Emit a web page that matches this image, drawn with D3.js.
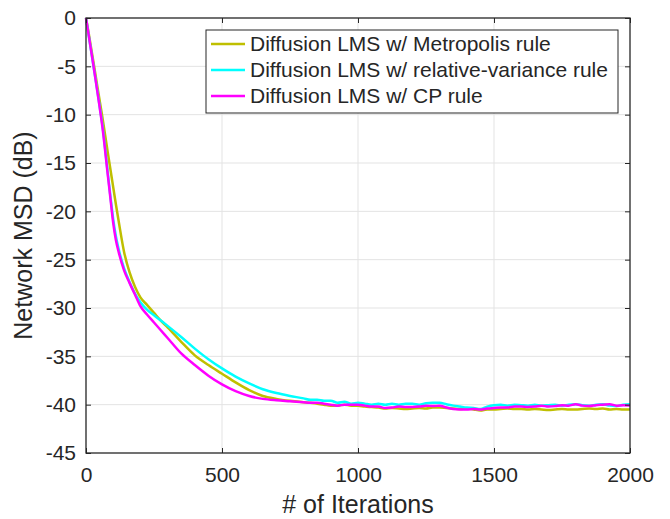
<!DOCTYPE html>
<html>
<head>
  <meta charset="UTF-8">
  <script src="https://d3js.org/d3.v7.min.js"></script>
  <style>
    body { margin: 0; background: #fff; }
    text { font-family: "Liberation Sans", Arial, Helvetica, sans-serif; fill: #262626; }
  </style>
</head>
<body>
  <script>
    // iteration index shared by all three curves
    var iters = [0, 10, 20, 30, 40, 50, 60, 80, 90, 100, 110, 120, 140, 160, 180, 200, 225, 250, 275, 300,
      350, 400, 450, 500, 550, 600, 650, 700, 750, 800,
      825, 850, 875, 900, 925, 950, 975, 1000, 1025, 1050, 1075, 1100, 1125, 1150, 1175, 1200,
      1225, 1250, 1275, 1300, 1325, 1350, 1375, 1400, 1425, 1450, 1475, 1500, 1525, 1550, 1575,
      1600, 1625, 1650, 1675, 1700, 1725, 1750, 1775, 1800, 1825, 1850, 1875, 1900, 1925, 1950,
      1975, 2000];

    // Metropolis rule
    var metropolis = [0, -1.6, -3.3, -5.0, -6.8, -8.5, -10.2, -13.9, -15.7, -17.5, -19.3, -21.0, -24.2, -26.3, -27.8, -28.9, -29.7, -30.5, -31.3, -32.0,
      -33.5, -34.9, -35.9, -36.8, -37.7, -38.5, -39.1, -39.4, -39.6, -39.75,
      -39.8, -39.9, -40.0, -40.1, -40.1, -40.0, -40.1, -40.1, -40.2, -40.25, -40.3, -40.4, -40.35, -40.4, -40.45, -40.4,
      -40.35, -40.4, -40.3, -40.3, -40.35, -40.4, -40.45, -40.4, -40.5, -40.6, -40.5, -40.5, -40.45, -40.4, -40.45,
      -40.45, -40.5, -40.45, -40.5, -40.55, -40.5, -40.45, -40.5, -40.5, -40.45, -40.4, -40.45, -40.4, -40.5, -40.45,
      -40.5, -40.5];

    // relative-variance rule
    var relVariance = [0, -1.8, -3.6, -5.4, -7.2, -9.1, -11.0, -16.0, -18.5, -20.8, -22.6, -23.9, -25.9, -27.3, -28.5, -29.4, -30.2, -30.75, -31.3, -31.85,
      -33.0, -34.2, -35.3, -36.25, -37.1, -37.8, -38.4, -38.8, -39.1, -39.35,
      -39.5, -39.5, -39.6, -39.6, -39.8, -39.7, -39.9, -39.8, -39.9, -40.0, -39.9, -40.0, -39.9, -40.0, -39.9, -39.9,
      -40.0, -39.85, -39.8, -39.8, -39.95, -40.1, -40.2, -40.3, -40.35, -40.45, -40.2, -40.05, -40.0, -40.1, -40.0,
      -40.05, -40.1, -40.0, -40.1, -40.05, -40.0, -40.1, -40.0, -39.95, -40.05, -40.1, -40.0, -39.95, -40.1, -40.15,
      -40.0, -39.95];

    // CP rule
    var cpRule = [0, -1.8, -3.6, -5.4, -7.3, -9.2, -11.2, -16.2, -18.7, -21.2, -23.0, -24.2, -26.1, -27.4, -28.6, -29.8, -30.7, -31.5, -32.3, -33.1,
      -34.7, -35.9, -37.0, -37.9, -38.6, -39.1, -39.4, -39.55, -39.65, -39.75,
      -39.8, -39.8, -39.9, -40.0, -40.1, -40.0, -40.0, -40.0, -40.1, -40.2, -40.2, -40.35, -40.3, -40.2, -40.25, -40.25,
      -40.2, -40.1, -40.15, -40.1, -40.3, -40.45, -40.5, -40.5, -40.45, -40.5, -40.4, -40.35, -40.3, -40.3, -40.2,
      -40.2, -40.25, -40.2, -40.1, -40.2, -40.15, -40.05, -40.1, -39.95, -40.1, -40.15, -40.05, -40.0, -39.95, -40.1,
      -40.05, -40.1];

    var seriesNames = ["Diffusion LMS w/ Metropolis rule", "Diffusion LMS w/ relative-variance rule", "Diffusion LMS w/ CP rule"];
    var seriesColors = ["#bfbf00", "#00ffff", "#ff00ff"];
    var seriesData = [metropolis, relVariance, cpRule];

    var xTicks = [0, 500, 1000, 1500, 2000];
    var yTicks = [0, -5, -10, -15, -20, -25, -30, -35, -40, -45];

    (function() {
      var width = 670, height = 519;
      var mL = 86, mR = 630, mT = 18, mB = 453;

      var svg = d3.select("body").append("svg")
        .attr("width", width)
        .attr("height", height);

      var x = d3.scaleLinear().domain([0, 2000]).range([mL, mR]);
      var y = d3.scaleLinear().domain([-45, 0]).range([mB, mT]);

      // grid lines
      svg.append("g").selectAll("line").data(xTicks.slice(1, -1)).enter().append("line")
        .attr("x1", function(d) { return x(d); }).attr("x2", function(d) { return x(d); })
        .attr("y1", mT).attr("y2", mB)
        .attr("stroke", "#e3e3e3").attr("stroke-width", 1);
      svg.append("g").selectAll("line").data(yTicks.slice(1, -1)).enter().append("line")
        .attr("y1", function(d) { return y(d); }).attr("y2", function(d) { return y(d); })
        .attr("x1", mL).attr("x2", mR)
        .attr("stroke", "#e3e3e3").attr("stroke-width", 1);

      // curves
      var line = d3.line()
        .curve(d3.curveMonotoneX)
        .x(function(d) { return x(d[0]); })
        .y(function(d) { return y(d[1]); });

      seriesData.forEach(function(vals, i) {
        svg.append("path")
          .datum(iters.map(function(t, j) { return [t, vals[j]]; }))
          .attr("d", line)
          .attr("fill", "none")
          .attr("stroke", seriesColors[i])
          .attr("stroke-width", 2.5)
          .attr("stroke-linejoin", "round");
      });

      // axes (ticks pointing inward, box on all sides)
      var axisStyle = function(g) {
        g.select(".domain").remove();
        g.selectAll(".tick line").attr("stroke", "#262626");
        g.selectAll(".tick text").attr("font-size", 21).attr("fill", "#262626")
          .attr("font-family", "Liberation Sans, Arial, sans-serif");
      };

      svg.append("g").attr("transform", "translate(0," + mB + ")")
        .call(d3.axisBottom(x).tickValues(xTicks).tickSize(-5).tickPadding(14).tickFormat(d3.format("d")))
        .call(axisStyle);
      svg.append("g").attr("transform", "translate(0," + mT + ")")
        .call(d3.axisTop(x).tickValues(xTicks).tickSize(-5).tickFormat(""))
        .call(axisStyle);
      svg.append("g").attr("transform", "translate(" + mL + ",0)")
        .call(d3.axisLeft(y).tickValues(yTicks).tickSize(-5).tickPadding(10)
          .tickFormat(function(d) { return String(d); }))
        .call(axisStyle);
      svg.append("g").attr("transform", "translate(" + mR + ",0)")
        .call(d3.axisRight(y).tickValues(yTicks).tickSize(-5).tickFormat(""))
        .call(axisStyle);

      svg.append("rect")
        .attr("x", mL).attr("y", mT)
        .attr("width", mR - mL).attr("height", mB - mT)
        .attr("fill", "none").attr("stroke", "#262626").attr("stroke-width", 1.3);

      // axis labels
      svg.append("text")
        .attr("x", (mL + mR) / 2).attr("y", 513)
        .attr("text-anchor", "middle").attr("font-size", 25)
        .text("# of Iterations");
      svg.append("text")
        .attr("transform", "translate(32," + (mT + mB) / 2 + ") rotate(-90)")
        .attr("text-anchor", "middle").attr("font-size", 25)
        .text("Network MSD (dB)");

      // legend
      var legend = svg.append("g");
      legend.append("rect")
        .attr("x", 206).attr("y", 30).attr("width", 412).attr("height", 83)
        .attr("fill", "#fff").attr("stroke", "#262626").attr("stroke-width", 1);
      seriesNames.forEach(function(name, i) {
        var ly = 44 + i * 26;
        legend.append("line")
          .attr("x1", 211).attr("x2", 245).attr("y1", ly).attr("y2", ly)
          .attr("stroke", seriesColors[i]).attr("stroke-width", 2.5);
        legend.append("text")
          .attr("x", 250).attr("y", ly + 7)
          .attr("font-size", 21)
          .text(name);
      });
    })();
  </script>
</body>
</html>
